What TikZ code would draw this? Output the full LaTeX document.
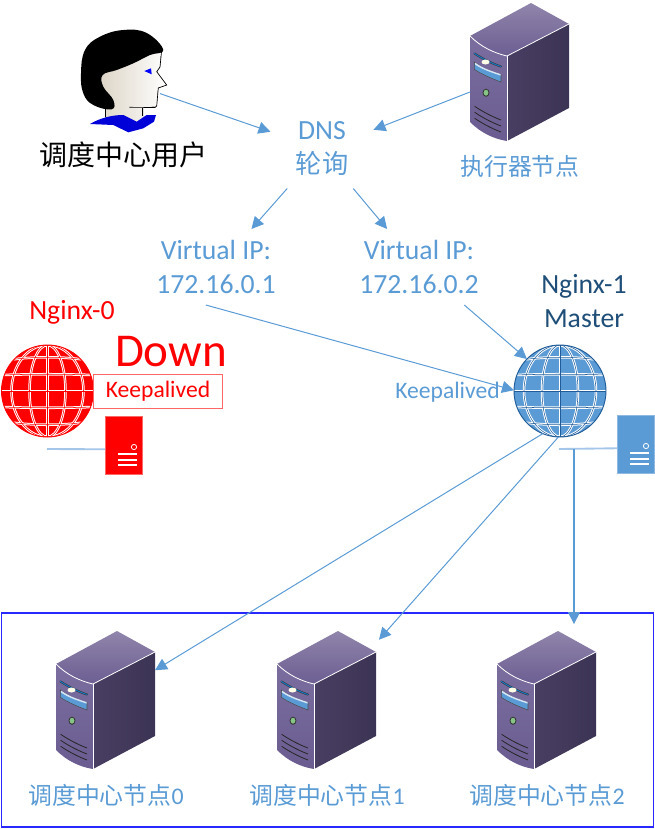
\documentclass[tikz,border=0pt]{standalone}
\usepackage{fontspec}
\setmainfont[Numbers=Lining]{Carlito}
\newfontfamily\cjk{Noto Sans CJK SC}
\usepackage{tikz}
\usetikzlibrary{arrows.meta}
\usetikzlibrary{calc}
\definecolor{linkblue}{HTML}{5B9BD5}
\definecolor{cableblue}{HTML}{A5C6E8}
\definecolor{edgeblue}{HTML}{8FB9E0}
\definecolor{globeline}{HTML}{1F5C99}
\definecolor{edgered}{HTML}{FF6666}
\definecolor{masterink}{HTML}{1F4E79}
\definecolor{frameblue}{HTML}{2828FF}
\definecolor{skin}{HTML}{D9D0C0}
\definecolor{srvtopa}{HTML}{9085AB}
\definecolor{srvtopb}{HTML}{6C5E92}
\definecolor{srvfronta}{HTML}{7B6E9F}
\definecolor{srvfrontb}{HTML}{6A5C90}
\definecolor{srvsidea}{HTML}{483E62}
\definecolor{srvsideb}{HTML}{3C3454}
\tikzset{
	link/.style={draw=linkblue, line width=0.75pt, -{Triangle[length=9pt,width=9pt]}},
	cable/.style={draw=cableblue, line width=1.4pt},
	hitbox/.style={inner sep=0pt, outer sep=0pt},
	bluetext/.style={text=linkblue, font=\fontsize{20.8}{25.5}\selectfont, align=center, inner sep=0pt, outer sep=0pt},
	nodetext/.style={text=linkblue, font=\fontsize{17.9}{22}\selectfont, inner sep=0pt},
	pics/server/.style={code={
		\shade[top color=srvtopa, bottom color=srvtopb]
			(0,0) -- (38,21) -- (-24,53) .. controls (-37,50) and (-50,44) .. (-61,33) -- cycle;
		\shade[top color=srvfronta, bottom color=srvfrontb]
			(-61,33) .. controls (-50,44) and (-37,50) .. (-24,53) -- (-24,138) .. controls (-37,136) and (-50,130) .. (-61,119) -- cycle;
		\shade[left color=srvsidea, right color=srvsideb]
			(-24,53) -- (38,21) -- (38,105) -- (-24,138) -- cycle;
		\draw[white, line width=0.6pt] (-61,33) .. controls (-50,44) and (-37,50) .. (-24,53) -- (38,21);
		\draw[white, line width=0.6pt] (-24,53) -- (-24,138);
		\draw[black!80, line width=1.5pt, line cap=round] (-56.5,50.5) .. controls (-48,56) and (-38,61) .. (-30,63.5);
		\draw[cyan!60!blue, line width=0.7pt, line cap=round] (-56.5,50.5) .. controls (-48,56) and (-38,61) .. (-30,63.5);
		\fill[white!90!yellow] (-45.5,59) ellipse (4 and 2.5);
		\filldraw[fill=linkblue, draw=black!70, line width=0.4pt] (-56.7,59) .. controls (-48,66) and (-38,69) .. (-30,71.7) -- (-30,79) .. controls (-38,76) and (-48,72) .. (-56.7,66.3) -- cycle;
		\fill[white!75!linkblue] (-56,59.5) .. controls (-48,65.5) and (-38,68.5) .. (-30.5,71) -- (-30.5,72.5) .. controls (-38,70) and (-48,67) .. (-56,61.5) -- cycle;
		\filldraw[fill=green!35!gray!70!white, draw=black!80, line width=0.6pt] (-45,89.7) ellipse (3 and 3.6);
		\foreach \dy in {0,6,12}
			\draw[black!85, line width=0.6pt] (-56.3,103.3+\dy) .. controls (-48,109+\dy) and (-38,114+\dy) .. (-30,117+\dy);
		\node[hitbox, minimum width=74.25pt, minimum height=103.5pt] (-box) at (-11.5,69) {};
	}},
	pics/globe/.style 2 args={code={
		\fill[#1] (0,0) circle (46);
		\begin{scope}
			\clip (0,0) circle (46);
			\foreach \w/\c in {1.9pt/white, 0.4pt/#2} {
				\draw[line width=\w, \c] (0,-46) -- (0,46);
				\draw[line width=\w, \c] (-46,0) -- (46,0);
				\foreach \r in {18,36}
					\draw[line width=\w, \c] (0,0) ellipse [x radius=\r, y radius=46];
				\foreach \m/\e in {17/16, 35/30} {
					\draw[line width=\w, \c] (-46,\e) .. controls (-16,\m) and (16,\m) .. (46,\e);
					\draw[line width=\w, \c] (-46,-\e) .. controls (-16,-\m) and (16,-\m) .. (46,-\e);
				}
			}
		\end{scope}
		\draw[#2, line width=0.7pt] (0,0) circle (46);
		\node[hitbox, circle, minimum size=69pt] (-box) at (0,0) {};
	}},
	pics/tower/.style 2 args={code={
		\filldraw[fill=#1, draw=#2, line width=0.6pt] (0,0) rectangle (37,58);
		\draw[white, line width=0.6pt] (29,31) circle (2.6);
		\foreach \y in {37,42.5,48}
			\fill[white] (13,\y) rectangle (32,\y+2.4);
		\node[hitbox, minimum width=27.75pt, minimum height=43.5pt] (-box) at (18.5,29) {};
	}},
}
\begin{document}
\begin{tikzpicture}[x=0.75pt, y=-0.75pt]
	\useasboundingbox (0,0) rectangle (655,829);

	\node[draw=frameblue, line width=0.9pt, hitbox, minimum width=489.5pt, minimum height=160.5pt] (frame) at (327.5,720) {};

	% user
	\fill[left color=skin, right color=white]
		(161,52) -- (160,67) -- (157,72) -- (166.7,85) -- (158,88) -- (156.7,106) -- (143,108) -- (143,120) -- (125,130) -- (105.3,120) -- (105.3,105) -- (92,85) -- (100,60) -- cycle;
	\draw[black, line width=0.5pt] (161.5,52) -- (160,67) -- (156.7,71.7) -- (166.7,85) -- (158.3,88) -- (156.7,106) -- (155,107.5) -- (129.3,107.3);
	\draw[black, line width=0.5pt] (105.3,107) -- (105.3,117);
	\draw[black, line width=0.5pt] (142.7,108) -- (142.7,116);
	\fill[black] plot[smooth cycle, tension=0.7] coordinates {(163.3,50) (146.7,33) (123.3,30) (100,36.7) (85,50) (81,73.3) (83.3,93.3) (93.3,105) (111.7,109.3) (113.3,100) (103.3,86.7) (102.7,75) (116.7,70) (133.3,63.3) (150,55)};
	\fill[blue!85!black] (90,124) .. controls (100,118) and (112,115) .. (123.3,115) -- (136.7,121.7) -- (146.7,115) -- (156,115) -- (154,121.7) -- (143.3,128.3) -- (128.3,132.3) -- (113.3,125) -- cycle;
	\fill[blue] (144.3,71) -- (151,68.3) -- (151.7,74.3) -- cycle;
	\node[hitbox, minimum width=59.25pt, minimum height=77.25pt] (user) at (120.5,81.5) {};
	\node[inner sep=0pt, font=\fontsize{21}{24}\selectfont\cjk] (userlabel) at (124,155) {调度中心用户};

	\pic (exec) at (531,3) {server};
	\node[nodetext] (execlabel) at (520,166) {\cjk 执行器节点};

	\node[bluetext, minimum width=77.25pt, minimum height=60pt] (dns) at (322,148.5) {DNS\\{\cjk\fontsize{19.7}{25.5}\selectfont 轮询}};
	\node[bluetext, minimum width=90pt, minimum height=57pt] (vip0) at (216,267) {Virtual IP:\\172.16.0.1};
	\node[bluetext, minimum width=90pt, minimum height=57pt] (vip1) at (419,267) {Virtual IP:\\172.16.0.2};

	% nginx-0
	\node[text=red, font=\fontsize{20.8}{25.5}\selectfont, inner sep=0pt] (nginx0label) at (72,312) {Nginx-0};
	\node[text=red, font=\fontsize{35.3}{40}\selectfont, inner sep=0pt] (downlabel) at (171,352) {Down};
	\pic (globe0) at (47.5,391) {globe={red}{red}};
	\node[draw=edgered, line width=0.75pt, text=red, font=\fontsize{17.7}{21}\selectfont, inner sep=0pt, minimum width=96.5pt, minimum height=26pt] (keep0) at (158,391.5) {Keepalived};
	\pic (tower0) at (105,416) {tower={red}{edgered}};
	\coordinate (cable0) at (47,449);
	\draw[cable] (cable0) -- (tower0-box.193);

	% nginx-1
	\node[text=masterink, font=\fontsize{20.8}{25.5}\selectfont, align=center, inner sep=0pt] (nginx1label) at (584,301.5) {Nginx-1\\Master};
	\pic (globe1) at (560,391) {globe={linkblue}{globeline}};
	\node[text=linkblue, font=\fontsize{17.7}{21}\selectfont, inner sep=0pt] (keep1) at (447.5,392) {Keepalived};
	\pic (tower1) at (617,415) {tower={linkblue}{edgeblue}};
	\coordinate (cable1) at (559,449);
	\coordinate (tap1) at (574,449);
	\draw[cable] (cable1) -- (tower1-box.193);

	% workers
	\pic (srv0) at (117,631) {server};
	\pic (srv1) at (338,631) {server};
	\pic (srv2) at (558,631) {server};
	\node[nodetext] (srv0label) at (106,795) {{\cjk 调度中心节点}0};
	\node[nodetext] (srv1label) at (327,795) {{\cjk 调度中心节点}1};
	\node[nodetext] (srv2label) at (547,795) {{\cjk 调度中心节点}2};

	\draw[link] (user.343) -- (dns.162);
	\draw[link] (exec-box.202) -- (dns.20);
	\draw[link] (dns.229) -- (vip0.47);
	\draw[link] (dns.308) -- (vip1.130);
	\draw[link] (vip0.255) -- (globe1-box.179);
	\draw[link] (vip1.320) -- (globe1-box.136);
	\draw[link] (globe1-box.248) -- (srv0-box.31);
	\draw[link, shorten >=3.3pt] (globe1-box.268) -- (srv1-box.49);
	\draw[link, shorten >=5.2pt, line width=1pt] (tap1) -- (tap1 |- srv2-box.north);
\end{tikzpicture}
\end{document}
